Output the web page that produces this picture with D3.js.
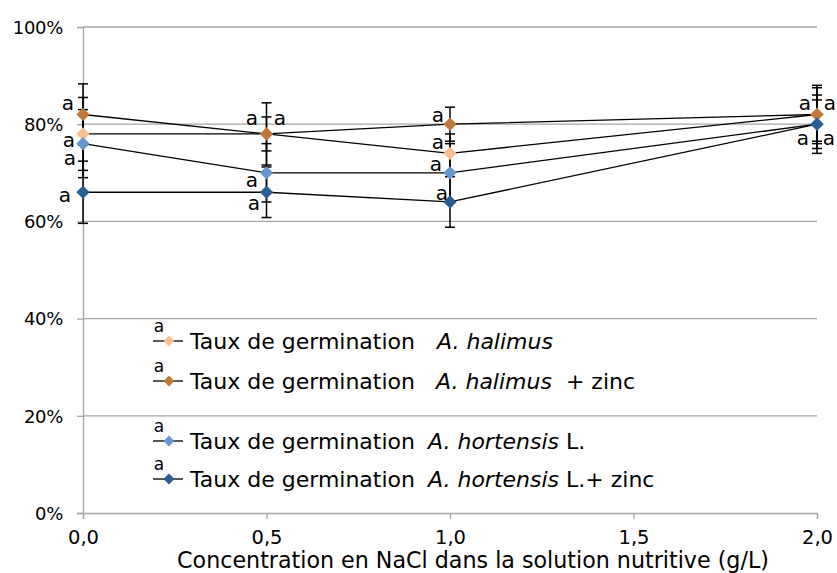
<!DOCTYPE html>
<html>
<head>
<meta charset="utf-8">
<script src="https://cdn.jsdelivr.net/npm/d3@7"></script>
<style>
  body { margin: 0; background: #fff; }
  text { font-family: "DejaVu Sans", sans-serif; fill: #000; }
</style>
</head>
<body>
<svg id="chart" width="837" height="573"></svg>
<script>
// NaCl concentration in the nutrient solution (g/L)
const concentrations = [0, 0.5, 1.0, 2.0];

// Germination rate (%) and standard deviation for each treatment
const halimus          = [78, 78, 74, 82];
const halimusErr       = [7.5, 6.4, 4, 5.5];
const halimusZinc      = [82, 78, 80, 82];
const halimusZincErr   = [6.3, 3.5, 3.5, 6];
const hortensis        = [76, 70, 70, 80];
const hortensisErr     = [7, 6, 6, 6];
const hortensisZinc    = [66, 66, 64, 80];
const hortensisZincErr = [6.4, 5.2, 5.2, 5];

// Statistical group letters
const halimusLetters       = ["a", "a", "a", "a"];
const halimusZincLetters   = ["a", "a", "a", "a"];
const hortensisLetters     = ["a", "a", "a", "a"];
const hortensisZincLetters = ["a", "a", "a", "a"];

const seriesNames = [
  ["Taux de germination", "A. halimus", ""],
  ["Taux de germination", "A. halimus", "  + zinc"],
  ["Taux de germination", "A. hortensis", " L."],
  ["Taux de germination", "A. hortensis", " L.+ zinc"]
];

const xTickValues = [0, 0.5, 1.0, 1.5, 2.0];
const xTickLabels = ["0,0", "0,5", "1,0", "1,5", "2,0"];
const yTickValues = [0, 20, 40, 60, 80, 100];
const yTickLabels = ["0%", "20%", "40%", "60%", "80%", "100%"];
const xTitle = "Concentration en NaCl dans la solution nutritive (g/L)";

// ---- layout & styling ----
const colors = ["#F9BE91", "#BE7A3C", "#6497CF", "#2A5D92"];
const plot = { left: 83, right: 817, top: 27, bottom: 513 };
const gridColor = "#a6a6a6";

const series = [
  { values: halimus,       err: halimusErr,       letters: halimusLetters },
  { values: halimusZinc,   err: halimusZincErr,   letters: halimusZincLetters },
  { values: hortensis,     err: hortensisErr,     letters: hortensisLetters },
  { values: hortensisZinc, err: hortensisZincErr, letters: hortensisZincLetters }
].map((s, i) => ({ ...s, color: colors[i], name: seriesNames[i] }));

// letter placement relative to its point [dx, dy], per series and concentration
const letterNudge = [
  [[-14, 6], [-14.5, -16], [-12, -11], [-12, -11.5]],
  [[-15, -11.5], [13.5, -16], [-12, -9], [13, -11.5]],
  [[-13, 14], [-14.5, 7], [-14, -9], [-14, 14]],
  [[-18, 3], [-12.5, 11], [-8, -9], [12, 14]]
];

const svg = d3.select("#chart");
svg.append("rect").attr("width", 837).attr("height", 573).attr("fill", "#fff");

const x = d3.scaleLinear().domain([0, 2]).range([plot.left, plot.right]);
const y = d3.scaleLinear().domain([0, 100]).range([plot.bottom, plot.top]);

// horizontal gridlines
svg.append("g")
  .selectAll("line")
  .data(yTickValues.filter(v => v > 0))
  .join("line")
  .attr("x1", plot.left).attr("x2", plot.right)
  .attr("y1", d => y(d)).attr("y2", d => y(d))
  .attr("stroke", gridColor).attr("stroke-width", 1.3);

// y axis
const yAxis = d3.axisLeft(y)
  .tickValues(yTickValues)
  .tickFormat((d, i) => yTickLabels[i])
  .tickSize(6).tickPadding(14);
const gy = svg.append("g").attr("transform", `translate(${plot.left},0)`).call(yAxis);
gy.select(".domain").attr("stroke", gridColor).attr("stroke-width", 1.3);
gy.selectAll(".tick line").attr("stroke", gridColor).attr("stroke-width", 1.3);
gy.selectAll(".tick text").attr("font-size", 18).attr("font-family", "DejaVu Sans")
  .attr("fill", "#000").attr("dy", "0.35em").attr("letter-spacing", -0.3);

// x axis
const xAxis = d3.axisBottom(x)
  .tickValues(xTickValues)
  .tickFormat((d, i) => xTickLabels[i])
  .tickSize(6).tickPadding(11);
const gx = svg.append("g").attr("transform", `translate(0,${plot.bottom})`).call(xAxis);
gx.select(".domain").attr("stroke", gridColor).attr("stroke-width", 1.3);
gx.selectAll(".tick line").attr("stroke", gridColor).attr("stroke-width", 1.3);
gx.selectAll(".tick text").attr("font-size", 19.5).attr("font-family", "DejaVu Sans")
  .attr("fill", "#000");

// x axis title
svg.append("text")
  .attr("x", 473).attr("y", 568)
  .attr("text-anchor", "middle")
  .attr("font-size", 22.2)
  .text(xTitle);

// connecting lines
const line = d3.line().x((d, i) => x(concentrations[i])).y(d => y(d));
series.forEach(s => {
  svg.append("path")
    .attr("d", line(s.values))
    .attr("fill", "none")
    .attr("stroke", "#000")
    .attr("stroke-width", 1.3);
});

// error bars
const cap = 5;
series.forEach(s => {
  const g = svg.append("g").attr("stroke", "#000").attr("stroke-width", 1.5);
  s.values.forEach((v, i) => {
    const cx = x(concentrations[i]);
    const y1 = y(v + s.err[i]), y2 = y(v - s.err[i]);
    g.append("line").attr("x1", cx).attr("x2", cx).attr("y1", y1).attr("y2", y2);
    g.append("line").attr("x1", cx - cap).attr("x2", cx + cap).attr("y1", y1).attr("y2", y1);
    g.append("line").attr("x1", cx - cap).attr("x2", cx + cap).attr("y1", y2).attr("y2", y2);
  });
});

// diamond markers
const diamond = d3.symbol(d3.symbolSquare, 88)();
const legendDiamond = d3.symbol(d3.symbolSquare, 58)();
series.forEach(s => {
  svg.append("g")
    .selectAll("path")
    .data(s.values)
    .join("path")
    .attr("d", diamond)
    .attr("transform", (d, i) => `translate(${x(concentrations[i])},${y(d)}) rotate(45)`)
    .attr("fill", s.color);
});

// group letters
series.forEach((s, si) => {
  s.letters.forEach((t, i) => {
    const [dx, dy] = letterNudge[si][i];
    svg.append("text")
      .attr("x", x(concentrations[i]) + dx)
      .attr("y", y(s.values[i]) + dy)
      .attr("dy", "0.35em")
      .attr("text-anchor", "middle")
      .attr("font-size", 20)
      .text(t);
  });
});

// legend
const legendRows = [341, 381, 441, 479];
const legendItalicX = [437, 436, 428, 428];
series.forEach((s, i) => {
  const cy = legendRows[i];
  const g = svg.append("g");
  g.append("line").attr("x1", 153).attr("x2", 183).attr("y1", cy).attr("y2", cy)
    .attr("stroke", "#000").attr("stroke-width", 1.3);
  g.append("path").attr("d", legendDiamond)
    .attr("transform", `translate(169,${cy}) rotate(45)`)
    .attr("fill", s.color);
  g.append("text").attr("x", 159).attr("y", cy - 15).attr("dy", "0.35em")
    .attr("text-anchor", "middle").attr("font-size", 17).text(s.letters[0]);
  const t = g.append("text").attr("x", 190).attr("y", cy).attr("dy", "0.35em")
    .attr("font-size", 22).attr("xml:space", "preserve");
  t.append("tspan").text(s.name[0]);
  t.append("tspan").attr("x", legendItalicX[i]).attr("font-style", "italic").text(s.name[1]);
  if (s.name[2]) t.append("tspan").text(s.name[2]);
});
</script>
</body>
</html>
